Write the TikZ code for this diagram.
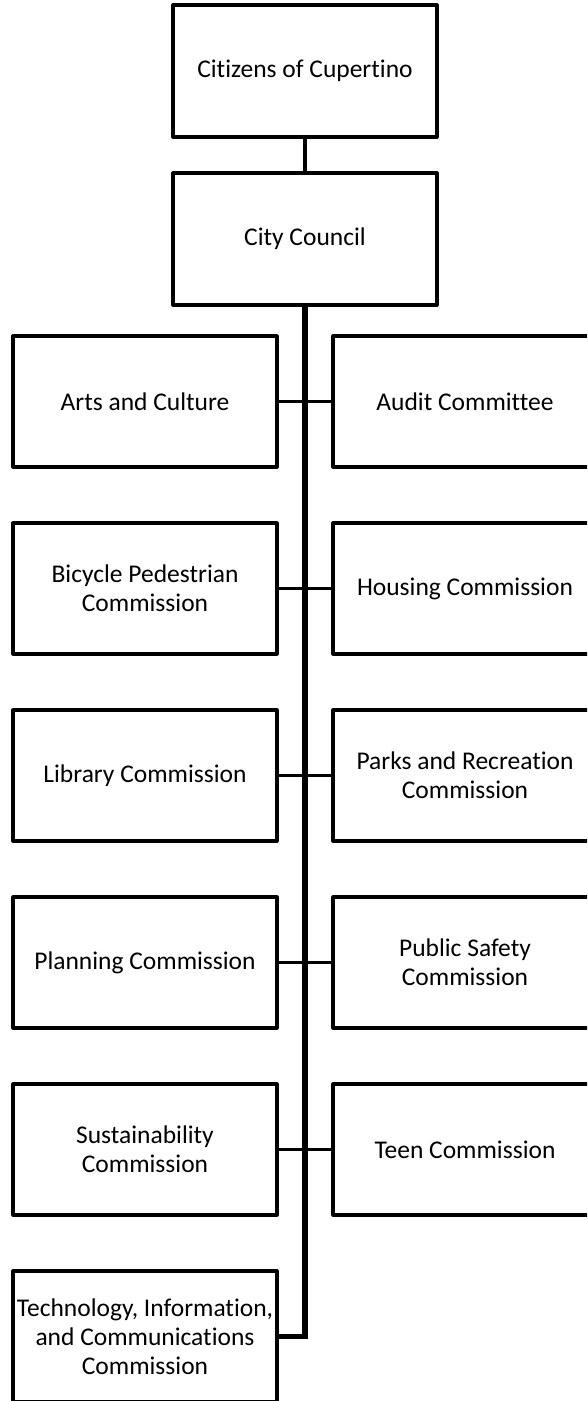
\documentclass[tikz,border=0pt]{standalone}
\usepackage{fontspec}
\setmainfont{Carlito}[Ligatures=NoCommon]
\begin{document}
\begin{tikzpicture}[x=1pt,y=-1pt,
  orgbox/.style={draw=black, line width=3.2pt, line join=round, fill=white,
    minimum width=264pt, minimum height=131pt, inner sep=2pt, align=center,
    font=\fontsize{25.5}{29}\selectfont},
  link/.style={draw=black, line width=3.2pt},
  trunk/.style={draw=black, line width=5.5pt, line join=miter}]
\useasboundingbox (0,0) rectangle (587,1401);
\clip (0,0) rectangle (587,1401);
\fill[white] (0,0) rectangle (587,1401);

\node[orgbox, minimum height=132pt] (cit) at (305,71) {Citizens of Cupertino};
\node[orgbox, minimum height=132pt] (cc) at (305,239) {City Council};

\node[orgbox] (arts) at (145,401.5) {Arts and Culture};
\node[orgbox] (audit) at (465,401.5) {Audit Committee};
\node[orgbox] (bike) at (145,588.5) {Bicycle Pedestrian\\Commission};
\node[orgbox] (house) at (465,588.5) {Housing Commission};
\node[orgbox] (lib) at (145,775.5) {Library Commission};
\node[orgbox] (parks) at (465,775.5) {Parks and Recreation\\Commission};
\node[orgbox] (plan) at (145,962.5) {Planning Commission};
\node[orgbox] (safety) at (465,962.5) {Public Safety\\Commission};
\node[orgbox] (sust) at (145,1149.5) {Sustainability\\Commission};
\node[orgbox] (teen) at (465,1149.5) {Teen Commission};
\node[orgbox] (tech) at (145,1336.5) {Technology, Information,\\and Communications\\Commission};

\draw[link] (cit.south) -- (cc.north);
\draw[link] (arts.east) -- (audit.west);
\draw[link] (bike.east) -- (house.west);
\draw[link] (lib.east) -- (parks.west);
\draw[link] (plan.east) -- (safety.west);
\draw[link] (sust.east) -- (teen.west);
\coordinate (tend) at (cc.south |- tech.east);
\draw[trunk] (cc.south) -- (tend) -- (tech.east);
\end{tikzpicture}
\end{document}
